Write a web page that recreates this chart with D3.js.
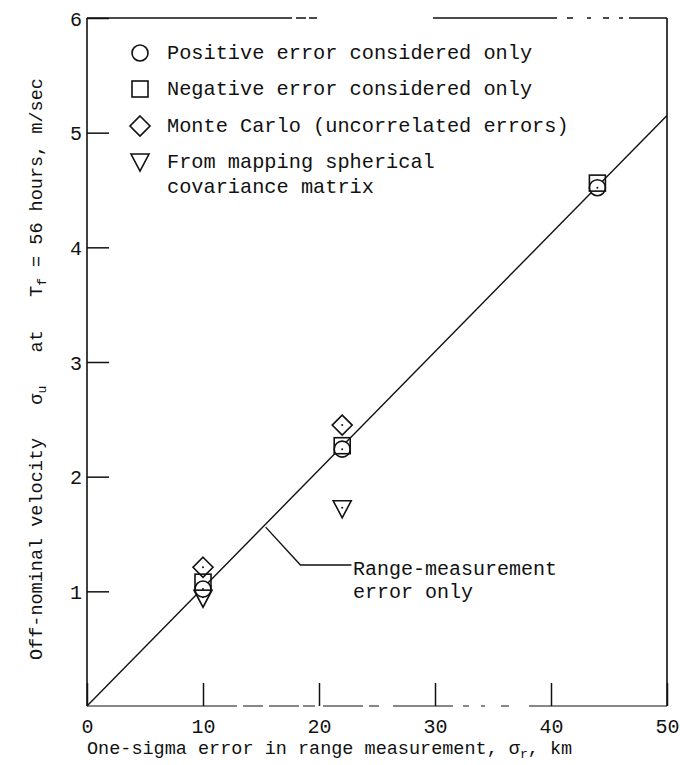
<!DOCTYPE html>
<html>
<head>
<meta charset="utf-8">
<script src="https://cdn.jsdelivr.net/npm/d3@7"></script>
<style>
  html, body { margin: 0; padding: 0; background: #fff; }
  svg { display: block; }
  text { font-family: "Liberation Mono", "Courier New", monospace; fill: #111; }
</style>
</head>
<body>
<svg id="chart" width="680" height="765"></svg>
<script>
// Off-nominal velocity vs. range-measurement error
const xTicks = [0, 10, 20, 30, 40, 50];
const yTicks = [1, 2, 3, 4, 5, 6];

const positiveErr = [[10, 1.02], [22, 2.24], [44, 4.52]];
const negativeErr = [[10, 1.08], [22, 2.27], [44, 4.56]];
const monteCarlo  = [[10, 1.21], [22, 2.45]];
const spherical   = [[10, 0.94], [22, 1.72]];
const rangeOnly   = [[0, 0], [50, 5.15]];

const legendLabels = [
  ["Positive error considered only"],
  ["Negative error considered only"],
  ["Monte Carlo (uncorrelated errors)"],
  ["From mapping spherical", "covariance matrix"]
];

const svg = d3.select("#chart");
const x = d3.scaleLinear().domain([0, 50]).range([87, 667]);
const y = d3.scaleLinear().domain([0, 6]).range([706, 18]);
const ink = "#111";

// Frame: scanned-style borders
const frame = svg.append("g").attr("fill", "none").attr("stroke", ink);
frame.append("line").attr("x1", x(0)).attr("x2", x(0)).attr("y1", y(6)).attr("y2", y(0)).attr("stroke-width", 1.6);
frame.append("line").attr("x1", x(50)).attr("x2", x(50)).attr("y1", y(6)).attr("y2", y(0)).attr("stroke-width", 1.6);
frame.append("line").attr("x1", x(0)).attr("x2", x(50)).attr("y1", y(6)).attr("y2", y(6))
  .attr("stroke-width", 1.3).attr("stroke-dasharray", "205 4 10 3 8 116 124 10 6 14 4 12 6 10 4 6");
frame.append("line").attr("x1", x(0)).attr("x2", x(50)).attr("y1", y(0)).attr("y2", y(0))
  .attr("stroke-width", 1.2).attr("stroke-dasharray", "150 6 20 6 30 4 12 8 40 6 10 14 60 10 6 12 4 16 8 20");

// Axes with inward ticks
const yAxis = svg.append("g").attr("transform", `translate(${x(0)},0)`)
  .call(d3.axisLeft(y).tickValues(yTicks).tickSize(-22).tickPadding(5).tickFormat(d3.format("d")));
const xAxis = svg.append("g").attr("transform", `translate(0,${y(0)})`)
  .call(d3.axisBottom(x).tickValues(xTicks).tickSize(-23).tickPadding(27).tickFormat(d3.format("d")));
[yAxis, xAxis].forEach(a => {
  a.select(".domain").remove();
  a.selectAll(".tick line").attr("stroke", ink).attr("stroke-width", 1.5);
  a.selectAll(".tick text").style("font-size", "20px").attr("fill", ink);
});
yAxis.selectAll(".tick text").attr("dy", "0.35em");
xAxis.selectAll(".tick text").attr("dy", "0");

// Range-measurement-only line
svg.append("path").datum(rangeOnly)
  .attr("d", d3.line().x(d => x(d[0])).y(d => y(d[1])))
  .attr("fill", "none").attr("stroke", ink).attr("stroke-width", 1.4);

// Markers
const mk = svg.append("g").attr("fill", "#fff").attr("stroke", ink).attr("stroke-width", 1.6);
function dot(g, cx, cy) { g.append("circle").attr("cx", cx).attr("cy", cy).attr("r", 1).attr("fill", ink).attr("stroke", "none"); }
function circleAt(g, cx, cy) { g.append("circle").attr("cx", cx).attr("cy", cy).attr("r", 8); }
function squareAt(g, cx, cy) { g.append("rect").attr("x", cx - 8).attr("y", cy - 8).attr("width", 16).attr("height", 16).attr("fill", "none"); }
function diamondAt(g, cx, cy) { g.append("path").attr("d", `M${cx},${cy-10}L${cx+10},${cy}L${cx},${cy+10}L${cx-10},${cy}Z`); }
function triAt(g, cx, cy) { g.append("path").attr("d", `M${cx-9},${cy-8}L${cx+9},${cy-8}L${cx},${cy+9}Z`); }

spherical.forEach(d => { triAt(mk, x(d[0]), y(d[1])); dot(mk, x(d[0]), y(d[1]) - 1); });
monteCarlo.forEach(d => { diamondAt(mk, x(d[0]), y(d[1])); dot(mk, x(d[0]), y(d[1])); });
positiveErr.forEach(d => { circleAt(mk, x(d[0]), y(d[1])); dot(mk, x(d[0]), y(d[1])); });
negativeErr.forEach(d => { squareAt(mk, x(d[0]), y(d[1])); });

// Legend
const lg = svg.append("g");
const rowsY = [53, 89, 126, 162];
const lm = lg.append("g").attr("fill", "#fff").attr("stroke", ink).attr("stroke-width", 1.6);
circleAt(lm, 140, rowsY[0]);
squareAt(lm, 140, rowsY[1]);
diamondAt(lm, 140, rowsY[2]);
triAt(lm, 140, rowsY[3]);
legendLabels.forEach((lines, i) => {
  lines.forEach((t, j) => {
    lg.append("text").attr("x", 167).attr("y", rowsY[i] + 6 + j * 25)
      .style("font-size", "20.3px").text(t);
  });
});

// Callout for the line
svg.append("path")
  .attr("d", `M${x(15.4)},${y(1.56)}L${x(18.4)},${y(1.23)}L${x(22.8)},${y(1.23)}`)
  .attr("fill", "none").attr("stroke", ink).attr("stroke-width", 1.4);
svg.append("text").attr("x", 353).attr("y", 575).style("font-size", "20px").text("Range-measurement");
svg.append("text").attr("x", 353).attr("y", 598).style("font-size", "20px").text("error only");

// Axis titles
const xt = svg.append("text").attr("x", 87).attr("y", 754).style("font-size", "18.5px").attr("xml:space", "preserve");
xt.append("tspan").text("One-sigma error in range measurement, σ");
xt.append("tspan").attr("dy", 4).style("font-size", "13px").text("r");
xt.append("tspan").attr("dy", -4).text(", km");

const yt = svg.append("text").attr("transform", "translate(42,660) rotate(-90)")
  .style("font-size", "18.5px").attr("xml:space", "preserve");
yt.append("tspan").text("Off-nominal velocity   σ");
yt.append("tspan").attr("dy", 4).style("font-size", "13px").text("u");
yt.append("tspan").attr("dy", -4).text("   at   T");
yt.append("tspan").attr("dy", 4).style("font-size", "13px").text("f");
yt.append("tspan").attr("dy", -4).text(" = 56 hours, m/sec");
</script>
</body>
</html>
